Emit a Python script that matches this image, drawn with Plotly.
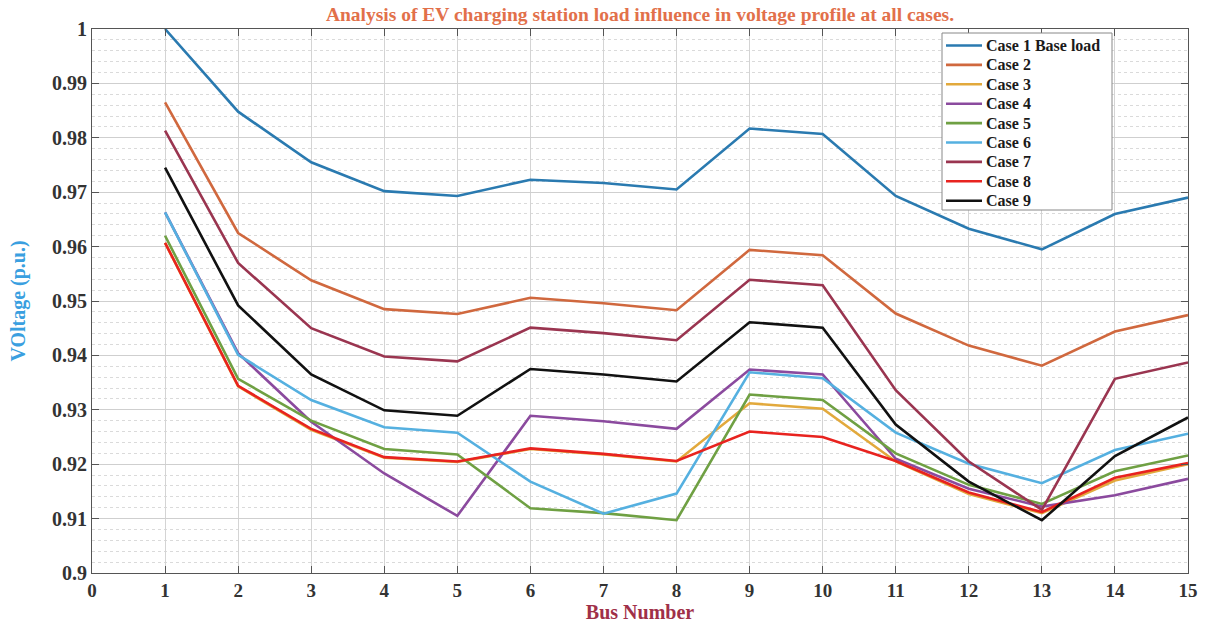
import plotly.graph_objects as go

buses = list(range(1, 16))
case1 = [1.0, 0.9848, 0.9755, 0.9702, 0.9693, 0.9723, 0.9717, 0.9705, 0.9817, 0.9807, 0.9693, 0.9633, 0.9595, 0.9660, 0.9690]
case2 = [0.9865, 0.9625, 0.9538, 0.9485, 0.9476, 0.9506, 0.9496, 0.9483, 0.9594, 0.9584, 0.9477, 0.9418, 0.9381, 0.9444, 0.9474]
case3 = [0.9607, 0.9343, 0.9263, 0.9212, 0.9204, 0.9228, 0.9218, 0.9205, 0.9312, 0.9302, 0.9205, 0.9145, 0.9110, 0.9170, 0.9200]
case4 = [0.9663, 0.9404, 0.9278, 0.9183, 0.9105, 0.9289, 0.9279, 0.9265, 0.9374, 0.9365, 0.9210, 0.9155, 0.9122, 0.9143, 0.9173]
case5 = [0.9620, 0.9357, 0.9280, 0.9228, 0.9218, 0.9119, 0.9110, 0.9097, 0.9328, 0.9318, 0.9220, 0.9162, 0.9127, 0.9187, 0.9216]
case6 = [0.9663, 0.9401, 0.9318, 0.9268, 0.9258, 0.9168, 0.9109, 0.9146, 0.9369, 0.9358, 0.9258, 0.9201, 0.9165, 0.9226, 0.9256]
case7 = [0.9813, 0.9570, 0.9450, 0.9398, 0.9389, 0.9451, 0.9441, 0.9428, 0.9539, 0.9529, 0.9336, 0.9205, 0.9116, 0.9357, 0.9387]
case8 = [0.9607, 0.9344, 0.9265, 0.9213, 0.9205, 0.9229, 0.9219, 0.9206, 0.9260, 0.9250, 0.9206, 0.9148, 0.9112, 0.9175, 0.9202]
case9 = [0.9745, 0.9492, 0.9365, 0.9299, 0.9289, 0.9375, 0.9365, 0.9352, 0.9461, 0.9451, 0.9273, 0.9168, 0.9097, 0.9215, 0.9286]

names = ["Case 1 Base load", "Case 2", "Case 3", "Case 4", "Case 5", "Case 6", "Case 7", "Case 8", "Case 9"]
series = [case1, case2, case3, case4, case5, case6, case7, case8, case9]
colors = ["#2A7AB0", "#D0683E", "#E2A93C", "#8B4A9E", "#6FA043", "#55B0E0", "#9A3550", "#E8231F", "#111111"]

x_ticks = list(range(0, 16))
y_ticks = [0.9, 0.91, 0.92, 0.93, 0.94, 0.95, 0.96, 0.97, 0.98, 0.99, 1.0]
y_tick_labels = ["0.9", "0.91", "0.92", "0.93", "0.94", "0.95", "0.96", "0.97", "0.98", "0.99", "1"]

SERIF = "Liberation Serif"
W, H = 1206, 626
ML, MR, MT, MB = 92, 18, 29, 53
PW, PH = W - ML - MR, H - MT - MB

fig = go.Figure()
for name, vals, col in zip(names, series, colors):
    fig.add_trace(go.Scatter(x=buses, y=vals, mode="lines", name=name,
                             line=dict(color=col, width=2.6), showlegend=False))

# Custom legend box (MATLAB-style compact legend), placed in paper coordinates
def px2paper_x(px):
    return (px - ML) / PW

def px2paper_y(py):
    return (H - MB - py) / PH

shapes = [dict(type="rect", xref="paper", yref="paper",
               x0=px2paper_x(942), x1=px2paper_x(1112),
               y0=px2paper_y(210), y1=px2paper_y(33),
               line=dict(color="#888888", width=1), fillcolor="white", layer="above")]
annotations = []
row0, step = 45.5, 19.4
for i, (name, col) in enumerate(zip(names, colors)):
    yy = px2paper_y(row0 + step * i)
    shapes.append(dict(type="line", xref="paper", yref="paper",
                       x0=px2paper_x(946), x1=px2paper_x(982), y0=yy, y1=yy,
                       line=dict(color=col, width=2.6), layer="above"))
    annotations.append(dict(xref="paper", yref="paper", x=px2paper_x(984), y=yy,
                            xanchor="left", yanchor="middle", text=name, showarrow=False,
                            font=dict(family=SERIF, size=16, color="#1a1a1a", weight="bold")))

fig.update_layout(
    width=W, height=H,
    paper_bgcolor="white", plot_bgcolor="white",
    margin=dict(l=ML, r=MR, t=MT, b=MB),
    title=dict(text="Analysis of EV charging station load influence in voltage profile at all cases.",
               xref="paper", x=0.5, xanchor="center", y=1 - 14 / H, yanchor="middle",
               font=dict(family=SERIF, size=19.5, color="#E2704A", weight="bold")),
    showlegend=False,
    shapes=shapes,
    annotations=annotations,
)

fig.update_xaxes(
    range=[0, 15], tickvals=x_ticks, ticktext=[str(t) for t in x_ticks],
    showgrid=True, gridcolor="#D4D4D4", gridwidth=1,
    showline=True, linecolor="#555555", linewidth=1.2, mirror="ticks",
    ticks="inside", ticklen=7, tickcolor="#555555",
    tickfont=dict(family=SERIF, size=19, color="#333333", weight="bold"),
    zeroline=False, automargin=False,
    title=dict(text="Bus Number", standoff=4,
               font=dict(family=SERIF, size=20, color="#A03048", weight="bold")),
)
fig.update_yaxes(
    range=[0.9, 1.0], tickvals=y_ticks, ticktext=y_tick_labels,
    showgrid=True, gridcolor="#CFCFCF", gridwidth=1,
    minor=dict(dtick=0.002, showgrid=True, gridcolor="#DADADA", griddash="dot", gridwidth=1),
    showline=True, linecolor="#555555", linewidth=1.2, mirror="ticks",
    ticks="inside", ticklen=7, tickcolor="#555555",
    tickfont=dict(family=SERIF, size=20, color="#333333", weight="bold"),
    zeroline=False, automargin=False,
    title=dict(text="VOltage (p.u.)", standoff=20,
               font=dict(family=SERIF, size=20, color="#3A9FE0", weight="bold")),
)

fig.write_html("out.html", config={"displayModeBar": False},
               post_script="document.body.style.margin='0';document.body.style.overflow='hidden';")
